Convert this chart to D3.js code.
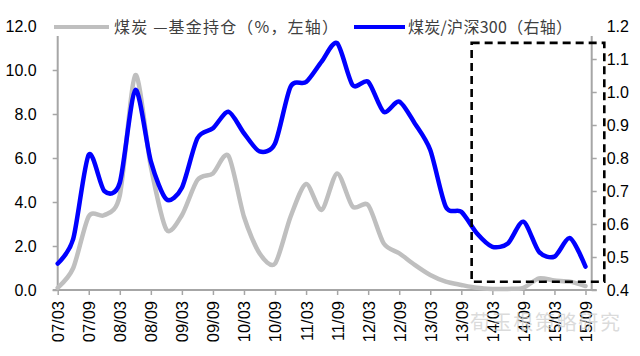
<!DOCTYPE html>
<html>
<head>
<meta charset="utf-8">
<script src="https://cdn.jsdelivr.net/npm/d3@7"></script>
<style>
  html, body { margin: 0; padding: 0; background: #fff; }
  svg { display: block; }
</style>
</head>
<body>
<svg id="chart" width="640" height="356"></svg>
<script>
// ---- data ----
const periods = ["07/03","07/06","07/09","07/12","08/03","08/06","08/09","08/12",
  "09/03","09/06","09/09","09/12","10/03","10/06","10/09","10/12",
  "11/03","11/06","11/09","11/12","12/03","12/06","12/09","12/12",
  "13/03","13/06","13/09","13/12","14/03","14/06","14/09","14/12",
  "15/03","15/06","15/09"];
const fundHolding = [0.1, 1.0, 3.35, 3.4, 4.3, 9.77, 5.6, 2.75,
  3.4, 5.0, 5.3, 6.1, 3.33, 1.67, 1.2, 3.33,
  4.82, 3.64, 5.3, 3.79, 3.86, 2.12, 1.67, 1.14,
  0.68, 0.38, 0.23, 0.1, 0.05, 0.05, 0.1, 0.53,
  0.43, 0.38, 0.18];
const relativeIndex = [0.48, 0.555, 0.81, 0.70, 0.725, 1.006, 0.79, 0.675,
  0.71, 0.86, 0.89, 0.94, 0.875, 0.82, 0.844, 1.016,
  1.03, 1.092, 1.148, 1.021, 1.031, 0.94, 0.971, 0.905,
  0.824, 0.652, 0.637, 0.572, 0.531, 0.541, 0.607, 0.516,
  0.501, 0.557, 0.471];
const xTickLabels = ["07/03","07/09","08/03","08/09","09/03","09/09","10/03","10/09",
  "11/03","11/09","12/03","12/09","13/03","13/09","14/03","14/09","15/03","15/09"];
const leftTicks = [0, 2, 4, 6, 8, 10, 12];
const rightTicks = [0.4, 0.5, 0.6, 0.7, 0.8, 0.9, 1.0, 1.1, 1.2];
const legendLabels = ["煤炭 —基金持仓（%，左轴）", "煤炭/沪深300（右轴）"];
const highlightFrom = "13/11"; // start of dashed highlight box
const highlightRange = [0.425, 1.149]; // right-axis span of the box
const watermark = "荀玉根策略研究";

// ---- helpers ----
const toMonth = s => { const [y, m] = s.split("/").map(Number); return (y - 7) * 12 + (m - 3); };

const svg = d3.select("#chart");
const L = 57.7, R = 591.7, T = 26, B = 290;
const axisColor = "#a6a6a6";
const font = "'Liberation Sans', Arial, sans-serif";

const x = d3.scaleLinear().domain([0, 103.2]).range([L, R]);
const yL = d3.scaleLinear().domain([0, 12]).range([B, T]);
const yR = d3.scaleLinear().domain([0.4, 1.2]).range([B, T]);

// ---- axes ----
const gLeft = svg.append("g").attr("transform", `translate(${L},0)`)
  .call(d3.axisLeft(yL).tickValues(leftTicks).tickFormat(d3.format(".1f")).tickSize(5).tickPadding(16));
const gRight = svg.append("g").attr("transform", `translate(${R},0)`)
  .call(d3.axisRight(yR).tickValues(rightTicks).tickFormat(d3.format(".1f")).tickSize(5).tickPadding(10));
const gBottom = svg.append("g").attr("transform", `translate(0,${B})`)
  .call(d3.axisBottom(x).tickValues(xTickLabels.map(toMonth)).tickFormat((d, i) => xTickLabels[i]).tickSize(5).tickSizeOuter(0));

[gLeft, gRight, gBottom].forEach(g => {
  g.select(".domain").attr("stroke", axisColor).attr("stroke-width", 2);
  g.selectAll(".tick line").attr("stroke", axisColor).attr("stroke-width", 1.5);
  g.selectAll("text").attr("fill", "#000").style("font-family", font).style("font-size", "16px");
});
gLeft.select(".domain").attr("d", `M-5,${T}H0V${B}H-5`);
gRight.select(".domain").attr("d", `M5,${T}H0V${B}H5`);
gBottom.select(".domain").attr("d", `M${L},0H${R}`);
gBottom.selectAll(".tick text")
  .attr("transform", "rotate(-90)")
  .attr("text-anchor", "end")
  .attr("x", -11)
  .attr("y", 0)
  .attr("dy", "0.36em")
  .style("font-size", "16.5px");

// ---- lines ----
const pts = periods.map((p, i) => ({ m: toMonth(p), a: fundHolding[i], b: relativeIndex[i] }));
svg.append("path").datum(pts)
  .attr("fill", "none").attr("stroke", "#bfbfbf").attr("stroke-width", 4.5)
  .attr("stroke-linejoin", "round").attr("stroke-linecap", "round")
  .attr("d", d3.line().x(d => x(d.m)).y(d => yL(d.a)).curve(d3.curveCardinal.tension(0.2)));
svg.append("path").datum(pts)
  .attr("fill", "none").attr("stroke", "#0000ff").attr("stroke-width", 4.5)
  .attr("stroke-linejoin", "round").attr("stroke-linecap", "round")
  .attr("d", d3.line().x(d => x(d.m)).y(d => yR(d.b)).curve(d3.curveCardinal.tension(0.2)));

// ---- highlight box ----
const bx0 = x(toMonth(highlightFrom)), bx1 = R + 12.6;
svg.append("rect")
  .attr("x", bx0).attr("y", yR(highlightRange[1]))
  .attr("width", bx1 - bx0).attr("height", yR(highlightRange[0]) - yR(highlightRange[1]))
  .attr("fill", "none").attr("stroke", "#000").attr("stroke-width", 2.6)
  .attr("stroke-dasharray", "8,5");

// ---- legend ----
const legend = svg.append("g");
legend.append("rect").attr("x", 43).attr("y", 18).attr("width", 555).attr("height", 18).attr("fill", "#fff");
legend.append("line").attr("x1", 54).attr("x2", 109).attr("y1", 27).attr("y2", 27)
  .attr("stroke", "#bfbfbf").attr("stroke-width", 4);
legend.append("text").attr("x", 114).attr("y", 33).text(legendLabels[0])
  .attr("fill", "#404040").style("font-family", "'Noto Sans CJK SC', sans-serif").style("font-size", "16px")
  .attr("textLength", 224).attr("lengthAdjust", "spacing");
legend.append("line").attr("x1", 354).attr("x2", 405).attr("y1", 27).attr("y2", 27)
  .attr("stroke", "#0000ff").attr("stroke-width", 4);
legend.append("text").attr("x", 408).attr("y", 33).text(legendLabels[1])
  .attr("fill", "#404040").style("font-family", "'Noto Sans CJK SC', sans-serif").style("font-size", "16px")
  .attr("textLength", 164).attr("lengthAdjust", "spacing");

// ---- watermark ----
svg.append("text").attr("x", 470).attr("y", 330).text(watermark)
  .attr("fill", "#cfcfcf").attr("fill-opacity", 0.75)
  .style("font-family", "'Noto Sans CJK SC', sans-serif").style("font-size", "20px")
  .attr("textLength", 150).attr("lengthAdjust", "spacing");
</script>
</body>
</html>
